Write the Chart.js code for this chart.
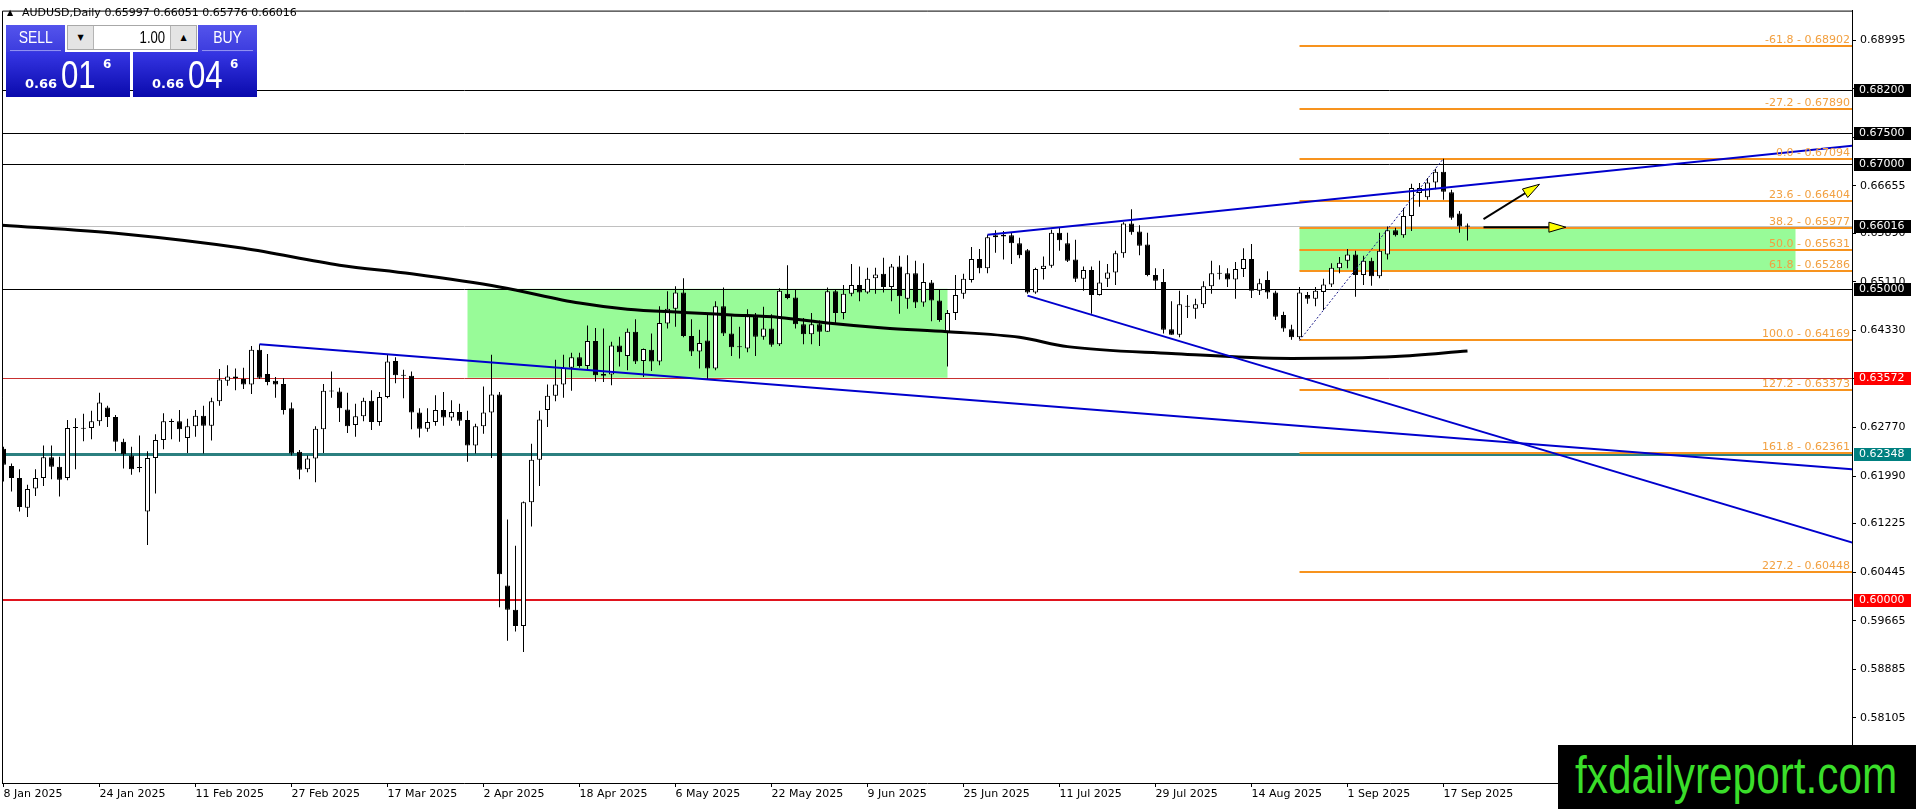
<!DOCTYPE html>
<html><head><meta charset="utf-8">
<script src="https://cdn.jsdelivr.net/npm/chart.js@4.4.1/dist/chart.umd.min.js"></script>
<style>
html,body{margin:0;padding:0;background:#fff;overflow:hidden;}
#wrap{position:relative;width:1916px;height:809px;}
#c{position:absolute;left:0;top:0;width:1916px;height:809px;}
#tri{position:absolute;left:7px;top:8px;font:8px "DejaVu Sans";line-height:10px;color:#000;}
#title{position:absolute;left:22px;top:6px;font:11px "DejaVu Sans";line-height:14px;color:#000;white-space:pre;}
.n{display:inline-block;transform:scaleX(0.82);white-space:nowrap;}
.btn{position:absolute;top:25px;width:59px;height:27px;background:linear-gradient(#5454ec,#3c3cde);color:#fff;font:17px "Liberation Sans";text-align:center;line-height:26px;}
.btn .n{transform-origin:center;}
.btn .sep{position:absolute;left:4px;right:4px;bottom:1px;height:1px;background:#9090f2;}
#sellBtn{left:6px;} #buyBtn{left:198px;}
#lot{position:absolute;left:67px;top:25px;width:130px;height:25px;background:#fff;border:1px solid #a8a8a8;box-sizing:border-box;}
.arr{position:absolute;top:0;width:25px;height:23px;background:#e4e4e4;font:8px "DejaVu Sans";line-height:23px;text-align:center;color:#000;}
#lot .dn{left:0;border-right:1px solid #b4b4b4;} #lot .up{right:0;border-left:1px solid #b4b4b4;}
#lot .val{position:absolute;right:31px;top:0;font:16px "Liberation Sans";line-height:23px;color:#000;}
#lot .val .n{transform-origin:right;}
.px{position:absolute;top:52px;width:124px;height:45px;background:linear-gradient(#3636e4,#0a0aac);color:#fff;}
#sellPx{left:6px;} #buyPx{left:133px;}
.px > span{position:absolute;white-space:nowrap;}
.px .sm{left:19px;top:25px;font:bold 13px "DejaVu Sans";line-height:13px;}
.px .big{left:55px;top:4px;font:38px "Liberation Sans";line-height:38px;}
.px .big .n{transform-origin:left;}
.px .sup{left:97px;top:6px;font:bold 12px "DejaVu Sans";line-height:12px;}
#banner{position:absolute;left:1558px;top:745px;width:358px;height:64px;background:#000;overflow:hidden;}
#banner span{position:absolute;left:17px;top:5px;font:51px "Liberation Sans";line-height:51px;color:#3ade2a;white-space:nowrap;transform:scaleX(0.83);transform-origin:left;}
</style></head><body>
<div id="wrap">
<canvas id="c" width="1916" height="809"></canvas>
<div id="tri">▲</div>
<div id="title">AUDUSD,Daily 0.65997 0.66051 0.65776 0.66016</div>
<div id="sellBtn" class="btn"><span class="n">SELL</span><div class="sep"></div></div>
<div id="lot"><div class="arr dn">▼</div><div class="val"><span class="n">1.00</span></div><div class="arr up">▲</div></div>
<div id="buyBtn" class="btn"><span class="n">BUY</span><div class="sep"></div></div>
<div id="sellPx" class="px"><span class="sm">0.66</span><span class="big"><span class="n">01</span></span><span class="sup">6</span></div>
<div id="buyPx" class="px"><span class="sm">0.66</span><span class="big"><span class="n">04</span></span><span class="sup">6</span></div>
<div id="banner"><span>fxdailyreport.com</span></div>
</div>
<script>
// ---------- DATA ----------
const xTickBars = [0,12,24,36,48,60,72,84,96,108,120,132,144,156,168,180];
const xTickLabels = ['8 Jan 2025','24 Jan 2025','11 Feb 2025','27 Feb 2025','17 Mar 2025','2 Apr 2025','18 Apr 2025','6 May 2025','22 May 2025','9 Jun 2025','25 Jun 2025','11 Jul 2025','29 Jul 2025','14 Aug 2025','1 Sep 2025','17 Sep 2025'];
const yTickValues = [0.68995,0.68215,0.67435,0.66655,0.65890,0.65110,0.64330,0.63550,0.62770,0.61990,0.61225,0.60445,0.59665,0.58885,0.58105];

const opens = [
0.6243,0.6215,0.6196,0.6148,0.6179,0.6196,0.6229,0.6214,0.6196,0.6276,
0.6276,0.6276,0.6287,0.6309,0.6294,0.6254,0.6232,0.6212,0.6142,0.6228,
0.6257,0.6287,0.6287,0.6260,0.6279,0.6296,0.6280,0.6319,0.6352,0.6359,
0.6355,0.6346,0.6402,0.6363,0.6352,0.6347,0.6308,0.6238,0.6210,0.6227,
0.6274,0.6336,0.6335,0.6306,0.6281,0.6295,0.6320,0.6286,0.6326,0.6384,
0.6361,0.6360,0.6301,0.6275,0.6286,0.6305,0.6293,0.6302,0.6289,0.6248,
0.6279,0.6301,0.6330,0.6023,0.5984,0.5958,0.6157,0.6225,0.6305,0.6328,
0.6346,0.6373,0.6390,0.6376,0.6416,0.6363,0.6362,0.6409,0.6392,0.6431,
0.6384,0.6402,0.6383,0.6444,0.6468,0.6494,0.6424,0.6399,0.6417,0.6372,
0.6472,0.6428,0.6406,0.6404,0.6456,0.6423,0.6436,0.6411,0.6492,0.6486,
0.6443,0.6427,0.6443,0.6431,0.6496,0.6461,0.6492,0.6506,0.6494,0.6517,
0.6524,0.6503,0.6536,0.6484,0.6525,0.6478,0.6510,0.6481,0.6431,0.6461,
0.6492,0.6514,0.6548,0.6533,0.6583,0.6587,0.6586,0.6573,0.6562,0.6494,
0.6532,0.6537,0.6590,0.6573,0.6547,0.6516,0.6530,0.6490,0.6516,0.6526,
0.6557,0.6605,0.6592,0.6571,0.6522,0.6511,0.6435,0.6426,0.6472,0.6468,
0.6475,0.6504,0.6525,0.6525,0.6515,0.6532,0.6548,0.6497,0.6514,0.6494,
0.6458,0.6435,0.6422,0.6490,0.6484,0.6495,0.6507,0.6533,0.6545,0.6555,
0.6522,0.6545,0.6520,0.6555,0.6594,0.6586,0.6617,0.6654,0.6647,0.6671,
0.6688,0.6655,0.6621,0.65997];
const highs = [
0.6246,0.6219,0.6210,0.6185,0.6210,0.6248,0.6248,0.6230,0.6289,0.6292,
0.6299,0.6304,0.6333,0.6312,0.6297,0.6259,0.6246,0.6264,0.6239,0.6266,
0.6300,0.6291,0.6305,0.6291,0.6305,0.6312,0.6325,0.6371,0.6377,0.6372,
0.6373,0.6408,0.6411,0.6395,0.6358,0.6356,0.6317,0.6241,0.6232,0.6279,
0.6347,0.6367,0.6341,0.6333,0.6315,0.6325,0.6337,0.6334,0.6394,0.6390,
0.6370,0.6367,0.6308,0.6308,0.6329,0.6334,0.6321,0.6315,0.6304,0.6283,
0.6343,0.6394,0.6334,0.6129,0.6087,0.6158,0.6251,0.6304,0.6346,0.6386,
0.6394,0.6397,0.6397,0.6441,0.6437,0.6436,0.6415,0.6423,0.6436,0.6451,
0.6404,0.6428,0.6472,0.6496,0.6504,0.6517,0.6451,0.6434,0.6461,0.6480,
0.6502,0.6456,0.6439,0.6467,0.6461,0.6471,0.6459,0.6501,0.6538,0.6498,
0.6453,0.6461,0.6449,0.6502,0.6498,0.6506,0.6540,0.6536,0.6534,0.6534,
0.6550,0.6540,0.6553,0.6554,0.6545,0.6541,0.6514,0.6498,0.6466,0.6522,
0.6524,0.6567,0.6564,0.6587,0.6594,0.6593,0.6590,0.6582,0.6564,0.6534,
0.6552,0.6595,0.6598,0.6590,0.6579,0.6536,0.6536,0.6545,0.6540,0.6561,
0.6607,0.6628,0.6602,0.6590,0.6533,0.6532,0.6480,0.6497,0.6490,0.6484,
0.6512,0.6545,0.6538,0.6533,0.6543,0.6565,0.6572,0.6516,0.6528,0.6497,
0.6463,0.6442,0.6503,0.6495,0.6503,0.6516,0.6541,0.6551,0.6564,0.6561,
0.6553,0.6550,0.6590,0.6600,0.6598,0.6630,0.6669,0.6670,0.6678,0.6693,
0.6709,0.6659,0.6625,0.66051];
const lows = [
0.6190,0.6174,0.6142,0.6133,0.6167,0.6183,0.6194,0.6166,0.6192,0.6210,
0.6255,0.6258,0.6280,0.6278,0.6239,0.6211,0.6201,0.6205,0.6088,0.6171,
0.6242,0.6258,0.6254,0.6236,0.6262,0.6235,0.6256,0.6312,0.6344,0.6337,
0.6339,0.6331,0.6355,0.6345,0.6325,0.6298,0.6232,0.6194,0.6205,0.6189,
0.6236,0.6325,0.6286,0.6268,0.6262,0.6287,0.6273,0.6280,0.6324,0.6348,
0.6324,0.6274,0.6261,0.6270,0.6280,0.6280,0.6288,0.6280,0.6222,0.6235,
0.6267,0.6228,0.5988,0.5934,0.5949,0.5916,0.6118,0.6183,0.6278,0.6319,
0.6325,0.6336,0.6373,0.6369,0.6351,0.6350,0.6345,0.6375,0.6369,0.6379,
0.6358,0.6368,0.6377,0.6436,0.6439,0.6422,0.6392,0.6372,0.6354,0.6369,
0.6424,0.6392,0.6388,0.6398,0.6392,0.6418,0.6407,0.6408,0.6483,0.6436,
0.6411,0.6411,0.6408,0.6431,0.6445,0.6451,0.6488,0.6480,0.6492,0.6492,
0.6494,0.6480,0.6460,0.6468,0.6469,0.6471,0.6448,0.6447,0.6375,0.6450,
0.6484,0.6510,0.6525,0.6525,0.6558,0.6547,0.6540,0.6549,0.6492,0.6492,
0.6515,0.6534,0.6561,0.6543,0.6511,0.6497,0.6460,0.6489,0.6503,0.6506,
0.6550,0.6587,0.6554,0.6520,0.6499,0.6428,0.6426,0.6422,0.6453,0.6452,
0.6469,0.6492,0.6515,0.6503,0.6484,0.6519,0.6485,0.6490,0.6484,0.6450,
0.6431,0.6418,0.6419,0.6476,0.6472,0.6466,0.6503,0.6525,0.6533,0.6487,
0.6506,0.6505,0.6517,0.6547,0.6584,0.6582,0.6593,0.6632,0.6643,0.6660,
0.6643,0.6611,0.6590,0.65776];
const closes = [
0.6217,0.6196,0.6149,0.6178,0.6196,0.6229,0.6214,0.6193,0.6276,0.6276,
0.6275,0.6287,0.6317,0.6294,0.6254,0.6234,0.6210,0.6212,0.6228,0.6257,
0.6287,0.6286,0.6274,0.6279,0.6296,0.6280,0.6319,0.6354,0.6359,0.6356,
0.6346,0.6402,0.6357,0.6350,0.6346,0.6305,0.6235,0.6209,0.6227,0.6275,
0.6336,0.6335,0.6308,0.6279,0.6295,0.6320,0.6286,0.6326,0.6383,0.6361,
0.6360,0.6301,0.6275,0.6286,0.6305,0.6293,0.6302,0.6288,0.6248,0.6279,
0.6301,0.6330,0.6041,0.5984,0.5958,0.6157,0.6225,0.6290,0.6328,0.6346,
0.6373,0.6390,0.6376,0.6416,0.6361,0.6360,0.6409,0.6398,0.6431,0.6383,
0.6403,0.6383,0.6445,0.6468,0.6494,0.6424,0.6399,0.6413,0.6372,0.6472,
0.6428,0.6406,0.6406,0.6456,0.6423,0.6436,0.6410,0.6497,0.6485,0.6443,
0.6427,0.6443,0.6431,0.6496,0.6461,0.6492,0.6506,0.6494,0.6516,0.6523,
0.6503,0.6536,0.6488,0.6525,0.6478,0.6511,0.6481,0.6450,0.6461,0.6490,
0.6516,0.6548,0.6533,0.6583,0.6586,0.6584,0.6573,0.6554,0.6494,0.6532,
0.6537,0.6590,0.6578,0.6545,0.6516,0.6530,0.6490,0.6510,0.6526,0.6557,
0.6605,0.6591,0.6569,0.6522,0.6513,0.6434,0.6426,0.6475,0.6471,0.6475,
0.6504,0.6525,0.6524,0.6515,0.6532,0.6548,0.6497,0.6509,0.6494,0.6455,
0.6436,0.6422,0.6494,0.6484,0.6497,0.6507,0.6534,0.6542,0.6555,0.6522,
0.6545,0.6520,0.6561,0.6594,0.6586,0.6617,0.6662,0.6662,0.6671,0.6688,
0.6656,0.6614,0.6600,0.66016];

// moving average (bar index, price)
const maBars   = [-1, 15, 30, 42, 51, 62, 72, 78, 85, 91, 97, 103, 110, 118, 127, 133, 146, 161, 174, 183];
const maValues = [0.6603,0.6588,0.6565,0.6538,0.6524,0.6503,0.6477,0.6467,0.6462,0.6458,0.6454,0.6445,0.6437,0.6431,0.6422,0.6407,0.6396,0.6388,0.6391,0.6400];

// trend lines: [startBar, endBar], [startPrice, endPrice]
const upperTrendBars = [123, 231.1];   const upperTrendPrices = [0.6587, 0.6730];
const lowerTrendBars = [32, 231.1];    const lowerTrendPrices = [0.6411, 0.6210];
const steepTrendBars = [128, 231.1];   const steepTrendPrices = [0.6489, 0.6092];

// horizontal levels
const levelPrices = [0.68200, 0.67500, 0.67000, 0.66016, 0.65000, 0.63572, 0.62348, 0.60000];

// fibonacci
const fibRatios = [-61.8,-27.2,0.0,23.6,38.2,50.0,61.8,100.0,127.2,161.8,227.2];
const fibPrices = [0.68902,0.67890,0.67094,0.66404,0.65977,0.65631,0.65286,0.64169,0.63373,0.62361,0.60448];
const fibStartBar = 162;
const fibSwingBars = [162, 180];
const fibSwingPrices = [0.64169, 0.67094];

// zones (bars from/to, prices low/high)
const zoneBars   = [[58, 118], [162, 224]];
const zonePrices = [[0.6357, 0.6500], [0.65286, 0.65977]];

// arrows (bars from/to, prices from/to)
const arrowBars   = [[185, 192], [185, 195.3]];
const arrowPrices = [[0.6612, 0.6668], [0.6599, 0.6599]];

// ---------- STYLES ----------
const levelStyle = [
  {line:'#000000', w:1, box:'#000000'},
  {line:'#000000', w:1, box:'#000000'},
  {line:'#000000', w:1, box:'#000000'},
  {line:'#c0c0c0', w:1, box:'#000000'},
  {line:'#000000', w:1, box:'#000000'},
  {line:'#c83030', w:1, box:'#ff0000'},
  {line:'#2b8080', w:3, box:'#008080'},
  {line:'#e0141e', w:2, box:'#ff0000'}
];
const FIB_LINE = '#f7931e', FIB_TEXT = '#f2a040', ZONE = '#98fb98', TREND = '#0000cd';
const FONT = '"DejaVu Sans"';

// ---------- CHART ----------
const idx = closes.map((_, i) => i);
const wickData = idx.map(i => ({x: i, y: [lows[i], highs[i]]}));
const bodyData = idx.map(i => ({x: i, y: [opens[i], closes[i]]}));
const bodyColors = idx.map(i => closes[i] >= opens[i] ? '#ffffff' : '#000000');
const pts = (bars, prices) => bars.map((b, k) => ({x: b, y: prices[k]}));

const overlay = {
  id: 'overlay',
  beforeDatasetsDraw(chart) {
    const {ctx, chartArea: a, scales: {x, y}} = chart;
    ctx.save();
    ctx.beginPath(); ctx.rect(a.left, a.top, a.right - a.left, a.bottom - a.top); ctx.clip();
    zoneBars.forEach((zb, k) => {
      const x0 = x.getPixelForValue(zb[0]), x1 = x.getPixelForValue(zb[1]);
      const y0 = y.getPixelForValue(zonePrices[k][1]), y1 = y.getPixelForValue(zonePrices[k][0]);
      ctx.fillStyle = ZONE; ctx.fillRect(x0, y0, x1 - x0, y1 - y0);
    });
    levelPrices.forEach((p, k) => {
      const st = levelStyle[k];
      let py = Math.round(y.getPixelForValue(p)); if (st.w % 2) py += 0.5;
      ctx.strokeStyle = st.line; ctx.lineWidth = st.w;
      ctx.beginPath(); ctx.moveTo(a.left, py); ctx.lineTo(a.right, py); ctx.stroke();
    });
    const fx = x.getPixelForValue(fibStartBar);
    fibPrices.forEach(p => {
      const py = Math.round(y.getPixelForValue(p));
      ctx.strokeStyle = FIB_LINE; ctx.lineWidth = 2;
      ctx.beginPath(); ctx.moveTo(fx, py); ctx.lineTo(a.right, py); ctx.stroke();
    });
    ctx.restore();
  },
  afterDatasetsDraw(chart) {
    const {ctx, chartArea: a, scales: {x, y}} = chart;
    ctx.save();
    ctx.beginPath(); ctx.rect(a.left, a.top, a.right - a.left, a.bottom - a.top); ctx.clip();
    ctx.font = '11px ' + FONT; ctx.fillStyle = FIB_TEXT; ctx.textAlign = 'right'; ctx.textBaseline = 'alphabetic';
    fibPrices.forEach((p, k) => {
      const py = Math.round(y.getPixelForValue(p));
      ctx.fillText(fibRatios[k].toFixed(1) + ' - ' + p.toFixed(5), a.right - 2, py - 3);
    });
    arrowBars.forEach((ab, k) => {
      const x0 = x.getPixelForValue(ab[0]), x1 = x.getPixelForValue(ab[1]);
      const y0 = y.getPixelForValue(arrowPrices[k][0]), y1 = y.getPixelForValue(arrowPrices[k][1]);
      const ang = Math.atan2(y1 - y0, x1 - x0), L = 17, H = 5;
      const bx = x1 - L * Math.cos(ang), by = y1 - L * Math.sin(ang);
      ctx.strokeStyle = '#000'; ctx.lineWidth = 2;
      ctx.beginPath(); ctx.moveTo(x0, y0); ctx.lineTo(bx, by); ctx.stroke();
      ctx.beginPath();
      ctx.moveTo(x1, y1);
      ctx.lineTo(bx + H * Math.sin(ang), by - H * Math.cos(ang));
      ctx.lineTo(bx - H * Math.sin(ang), by + H * Math.cos(ang));
      ctx.closePath();
      ctx.fillStyle = '#ffff00'; ctx.fill();
      ctx.lineWidth = 1; ctx.strokeStyle = '#000'; ctx.stroke();
    });
    ctx.restore();
    ctx.save();
    ctx.strokeStyle = '#000'; ctx.lineWidth = 1;
    ctx.beginPath();
    ctx.moveTo(a.left + 0.5, a.bottom); ctx.lineTo(a.left + 0.5, a.top + 0.5); ctx.lineTo(a.right, a.top + 0.5);
    ctx.stroke();
    ctx.restore();
  },
  afterDraw(chart) {
    const {ctx, chartArea: a, scales: {y}} = chart;
    ctx.save();
    ctx.font = '11px ' + FONT; ctx.textAlign = 'left'; ctx.textBaseline = 'middle';
    levelPrices.forEach((p, k) => {
      const py = Math.round(y.getPixelForValue(p));
      ctx.fillStyle = levelStyle[k].box;
      ctx.fillRect(a.right + 2, py - 6, 57, 13);
      ctx.fillStyle = '#ffffff';
      ctx.fillText(p.toFixed(5), a.right + 7, py + 0.5);
    });
    ctx.restore();
  }
};

new Chart(document.getElementById('c'), {
  type: 'bar',
  data: {
    datasets: [
      {type: 'line', data: pts(upperTrendBars, upperTrendPrices), borderColor: TREND, borderWidth: 2, pointRadius: 0, order: 0},
      {type: 'line', data: pts(lowerTrendBars, lowerTrendPrices), borderColor: TREND, borderWidth: 2, pointRadius: 0, order: 0},
      {type: 'line', data: pts(steepTrendBars, steepTrendPrices), borderColor: TREND, borderWidth: 2, pointRadius: 0, order: 0},
      {type: 'line', data: pts(fibSwingBars, fibSwingPrices), borderColor: '#1a1a8a', borderWidth: 1, borderDash: [2, 2], pointRadius: 0, order: 0},
      {type: 'line', data: pts(maBars, maValues), borderColor: '#000', borderWidth: 3, pointRadius: 0, cubicInterpolationMode: 'monotone', order: 1},
      {type: 'bar', data: bodyData, backgroundColor: bodyColors, borderColor: '#000', borderWidth: 1, borderSkipped: false,
       barThickness: 5, minBarLength: 1, grouped: false, inflateAmount: 0, order: 2},
      {type: 'bar', data: wickData, backgroundColor: '#000', borderWidth: 0, barThickness: 1, grouped: false, inflateAmount: 0, order: 3}
    ]
  },
  options: {
    responsive: false, animation: false, devicePixelRatio: 1, events: [],
    layout: {padding: {left: 2, top: 2, right: 0, bottom: 0}},
    plugins: {legend: {display: false}, tooltip: {enabled: false}},
    scales: {
      x: {
        type: 'linear', min: -0.1875, max: 231.0625, offset: false,
        afterBuildTicks: s => { s.ticks = xTickBars.map(v => ({value: v})); },
        afterFit: s => { s.height = 26; },
        ticks: {callback: (v, i) => xTickLabels[i], align: 'start', padding: 1, maxRotation: 0, autoSkip: false,
                color: '#000', font: {family: 'DejaVu Sans', size: 11}},
        grid: {drawOnChartArea: false, offset: false, drawTicks: true, tickLength: 4, color: '#000'},
        border: {display: true, color: '#000'}
      },
      y: {
        type: 'linear', position: 'right', min: 0.57055, max: 0.69472, beginAtZero: false,
        afterBuildTicks: s => { s.ticks = yTickValues.map(v => ({value: v})); },
        afterFit: s => { s.width = 64; },
        ticks: {callback: v => Number(v).toFixed(5), padding: 4, autoSkip: false, color: '#000', font: {family: 'DejaVu Sans', size: 11}},
        grid: {drawOnChartArea: false, drawTicks: true, tickLength: 4, color: '#000'},
        border: {display: true, color: '#000'}
      }
    }
  },
  plugins: [overlay]
});
</script>
</body></html>
